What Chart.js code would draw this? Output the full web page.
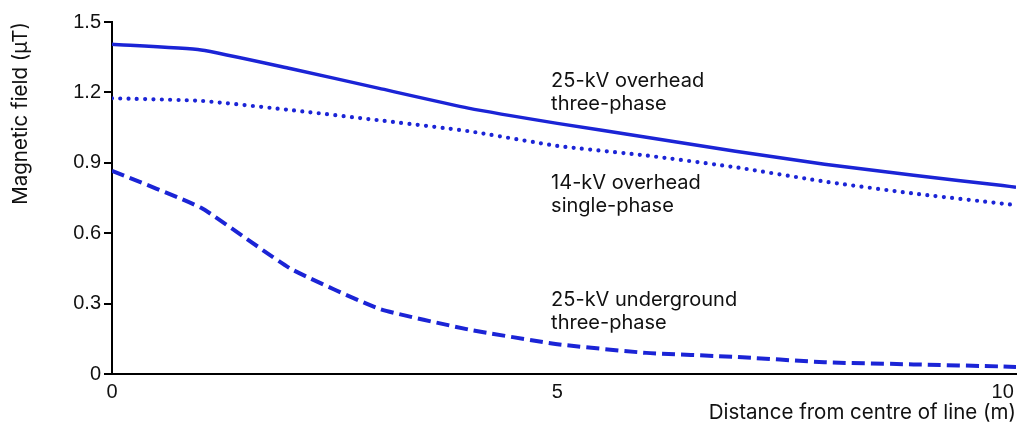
<!DOCTYPE html>
<html>
<head>
<meta charset="utf-8">
<script src="https://cdn.jsdelivr.net/npm/chart.js@4/dist/chart.umd.min.js"></script>
<style>
  html, body { margin: 0; padding: 0; background: #fff; }
  #wrap { width: 1026px; height: 427px; }
</style>
</head>
<body>
<div id="wrap"><canvas id="grafico"></canvas></div>
<script>
/* ================= DADOS ================= */
const distances = [0, 1, 2, 3, 4, 5, 6, 7, 8, 9, 10, 10.15];
const overhead25 = [1.405, 1.381, 1.302, 1.217, 1.133, 1.068, 1.009, 0.949, 0.894, 0.847, 0.803, 0.796];
const overhead14 = [1.175, 1.164, 1.125, 1.081, 1.035, 0.972, 0.931, 0.881, 0.820, 0.769, 0.726, 0.720];
const underground25 = [0.866, 0.708, 0.450, 0.278, 0.190, 0.127, 0.090, 0.073, 0.050, 0.041, 0.032, 0.030];

const xTicks = [0, 5, 10];
const yTicks = [0, 0.3, 0.6, 0.9, 1.2, 1.5];

const seriesNames = [
  ["25-kV overhead", "three-phase"],
  ["14-kV overhead", "single-phase"],
  ["25-kV underground", "three-phase"]
];

/* ================= ESTILO ================= */
const BLUE = "#1b24d6";
const INK = "#111111";
const SANS = "Inter, 'Noto Sans', sans-serif";
const TICK_FONT = "'Liberation Sans', Arial, sans-serif";

// where the series names sit (axis units)
const labelSpots = [
  { x: 4.93, y: 1.248 },
  { x: 4.93, y: 0.814 },
  { x: 4.93, y: 0.316 }
];

function pares(ys) {
  return distances.map((d, i) => ({ x: d, y: ys[i] }));
}

/* ================= ROTULOS ================= */
const seriesLabels = {
  id: "seriesLabels",
  afterDatasetsDraw(chart) {
    const { ctx, scales: { x, y } } = chart;
    ctx.save();
    ctx.fillStyle = INK;
    ctx.font = "20px " + SANS;
    ctx.textAlign = "left";
    ctx.textBaseline = "middle";
    seriesNames.forEach((lines, i) => {
      const px = x.getPixelForValue(labelSpots[i].x);
      const py = y.getPixelForValue(labelSpots[i].y);
      lines.forEach((t, j) => ctx.fillText(t, px, py + j * 23));
    });
    ctx.restore();
  }
};

/* ================= GRAFICO ================= */
const lineBase = {
  borderColor: BLUE,
  pointRadius: 0,
  fill: false,
  tension: 0.15
};

new Chart(document.getElementById("grafico"), {
  type: "line",
  data: {
    datasets: [
      { ...lineBase, label: seriesNames[0].join(" "), data: pares(overhead25), borderWidth: 3.5 },
      { ...lineBase, label: seriesNames[1].join(" "), data: pares(overhead14), borderWidth: 4.2,
        borderDash: [0, 8.3], borderCapStyle: "round" },
      { ...lineBase, label: seriesNames[2].join(" "), data: pares(underground25), borderWidth: 4,
        borderDash: [13, 6] }
    ]
  },
  options: {
    responsive: true,
    maintainAspectRatio: false,
    animation: false,
    layout: { padding: { top: 22, right: 10, bottom: 0, left: 0 } },
    plugins: { legend: { display: false }, tooltip: { enabled: false } },
    scales: {
      x: {
        type: "linear",
        min: 0,
        max: 10.15,
        afterBuildTicks: s => { s.ticks = xTicks.map(v => ({ value: v })); },
        afterFit: s => { s.height = 53; s.paddingRight = 0; s.paddingLeft = 0; },
        grid: { display: true, drawOnChartArea: false, drawTicks: false },
        border: { display: true, color: "#000", width: 2 },
        ticks: {
          color: INK,
          padding: 6,
          maxRotation: 0,
          font: { family: TICK_FONT, size: 20 },
          callback: v => String(v)
        },
        title: {
          display: true,
          text: "Distance from centre of line (m)",
          align: "end",
          color: INK,
          font: { family: SANS, size: 20.5 },
          padding: { top: 0, bottom: 2 }
        }
      },
      y: {
        min: 0,
        max: 1.5,
        afterBuildTicks: s => { s.ticks = yTicks.map(v => ({ value: v })); },
        afterFit: s => { s.width = 112; },
        grid: { display: true, drawOnChartArea: false, drawTicks: true, tickLength: 8, color: "#000", lineWidth: 2 },
        border: { display: true, color: "#000", width: 2 },
        ticks: {
          color: INK,
          padding: 3,
          font: { family: TICK_FONT, size: 20 },
          callback: v => (v === 0 ? "0" : v.toFixed(1))
        },
        title: {
          display: true,
          text: "Magnetic field (µT)",
          align: "end",
          color: INK,
          font: { family: SANS, size: 20.5 },
          padding: { top: 9, bottom: 0 }
        }
      }
    }
  },
  plugins: [seriesLabels]
});
</script>
</body>
</html>
